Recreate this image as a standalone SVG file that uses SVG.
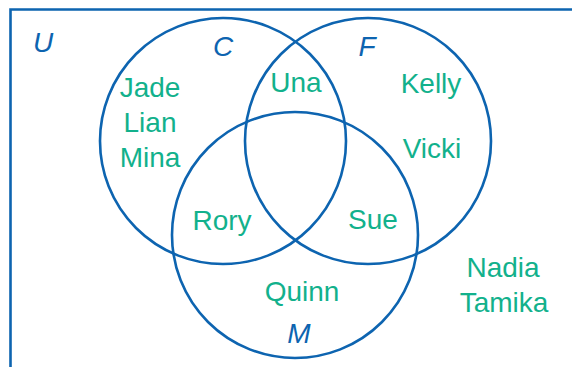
<svg xmlns="http://www.w3.org/2000/svg" width="572" height="367" viewBox="0 0 572 367">
<style>
.set{fill:none;stroke:#0d64b0;stroke-width:2.6}
.lbl{font-family:"Liberation Sans",Arial,sans-serif;font-size:28px;font-style:italic;fill:#0d64b0;text-anchor:middle}
.name{font-family:"Liberation Sans",Arial,sans-serif;font-size:28px;fill:#12b18c;text-anchor:middle}
</style>
<rect width="572" height="367" fill="#fff"/>
<g id="universe">
<path class="set" d="M10.5,380 V9.5 H590"/>
<text class="lbl" x="43" y="52">U</text>
</g>
<g id="setC">
<circle class="set" cx="223" cy="141" r="123"/>
<text class="lbl" x="223" y="56">C</text>
</g>
<g id="setF">
<circle class="set" cx="368" cy="141" r="123"/>
<text class="lbl" x="367" y="56">F</text>
</g>
<g id="setM">
<circle class="set" cx="295" cy="235" r="123"/>
<text class="lbl" x="299" y="343">M</text>
</g>
<g id="names">
<text class="name" x="150" y="97">Jade</text>
<text class="name" x="150" y="132">Lian</text>
<text class="name" x="150" y="167">Mina</text>
<text class="name" x="296" y="92">Una</text>
<text class="name" x="431" y="93">Kelly</text>
<text class="name" x="432" y="158">Vicki</text>
<text class="name" x="222" y="230">Rory</text>
<text class="name" x="373" y="229">Sue</text>
<text class="name" x="302" y="301">Quinn</text>
<text class="name" x="503" y="277">Nadia</text>
<text class="name" x="504" y="312">Tamika</text>
</g>
<g id="connectors"></g>
</svg>
